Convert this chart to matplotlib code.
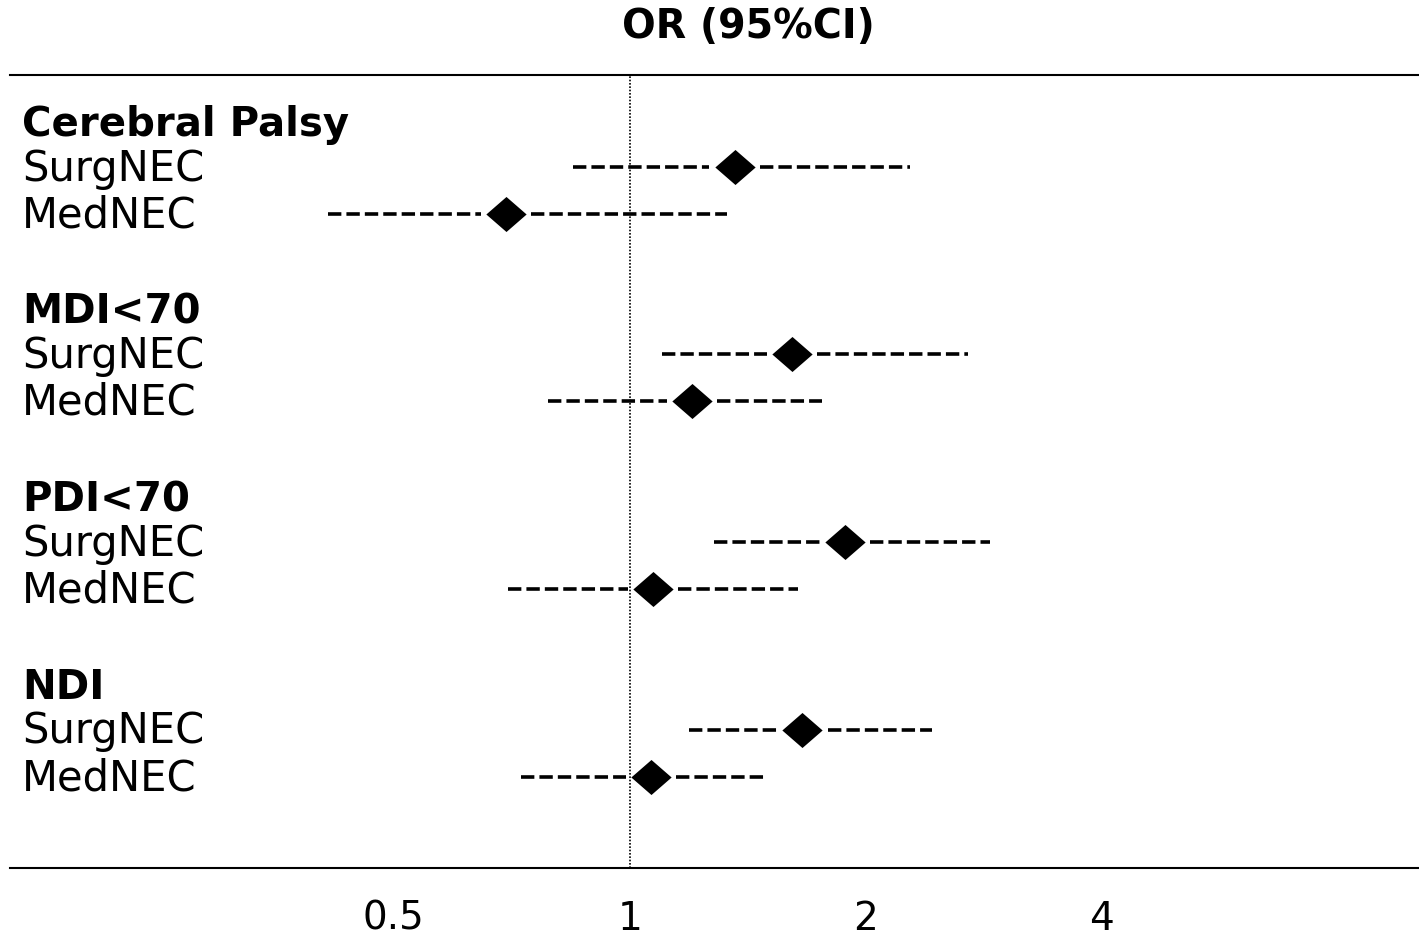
import matplotlib
matplotlib.use("Agg")
import matplotlib.pyplot as plt
import numpy as np

# forest plot data (odds ratios)
grupos = ["Cerebral Palsy", "MDI<70", "PDI<70", "NDI"]
linhas = ["SurgNEC", "MedNEC"]
or_pt = [1.36, 0.695, 1.61, 1.20, 1.88, 1.07, 1.66, 1.064]
ic_lo = [0.846, 0.412, 1.10, 0.786, 1.28, 0.70, 1.19, 0.726]
ic_hi = [2.28, 1.33, 2.70, 1.76, 2.88, 1.64, 2.43, 1.49]
ticks_x = [0.5, 1, 2, 4]
tick_labels = ["0.5", "1", "2", "4"]

plt.rcParams['font.family'] = ['DejaVu Sans']

fig = plt.figure(figsize=(14.19, 9.41), dpi=100)
ax = fig.add_axes([10 / 1419, 73 / 941, 1409 / 1419, 793 / 941])

ax.set_xscale("log")
ax.set_xlim(0.162, 10.15)
ax.set_ylim(15.95, -0.96)

diamante = [(-1, 0), (0, 0.87), (1, 0), (0, -0.87), (-1, 0)]
gap = 1.077  # folga entre o losango e a linha tracejada

trans = ax.get_yaxis_transform()
k = 0
for g, grupo in enumerate(grupos):
    base = g * 4
    ax.text(0.0085, base + 0.34, grupo, transform=trans, fontsize=29,
            fontweight="bold", va="baseline", ha="left")
    for j, nome in enumerate(linhas):
        y = base + 1 + j
        ax.text(0.0085, y + 0.29, nome, transform=trans, fontsize=30,
                va="baseline", ha="left")
        ax.plot([ic_lo[k], or_pt[k] / gap], [y, y], color="black", lw=2.6,
                ls=(0, (3.7, 1.4)), dash_capstyle="butt")
        ax.plot([or_pt[k] * gap, ic_hi[k]], [y, y], color="black", lw=2.6,
                ls=(0, (3.7, 1.4)), dash_capstyle="butt")
        ax.plot(or_pt[k], y, marker=diamante, markersize=29, color="black",
                markeredgewidth=0, ls="none")
        k += 1

ax.axvline(1, color="black", lw=1.2, ls=(0, (1, 1)))

for s in ["left", "right"]:
    ax.spines[s].set_visible(False)
for s in ["top", "bottom"]:
    ax.spines[s].set_linewidth(1.5)

ax.set_yticks([])
ax.set_xticks(ticks_x)
ax.set_xticklabels(tick_labels)
ax.xaxis.set_minor_locator(matplotlib.ticker.NullLocator())
ax.tick_params(axis="x", length=0, pad=23, labelsize=28)

fig.text(748 / 1419, 1 - 27 / 941, "OR (95%CI)", fontsize=28.5,
         fontweight="bold", ha="center", va="center")

fig.savefig("out.png", dpi=100)
